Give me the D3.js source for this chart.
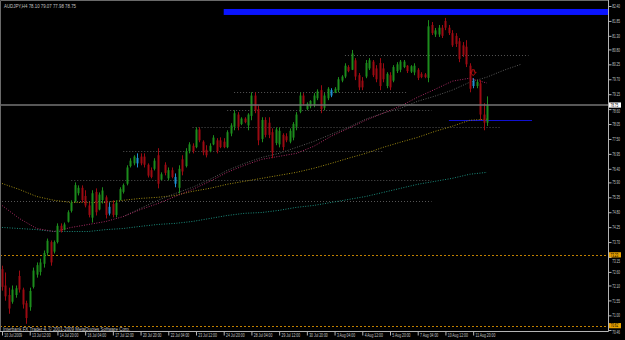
<!DOCTYPE html>
<html>
<head>
<meta charset="utf-8">
<script src="https://cdn.jsdelivr.net/npm/d3@7"></script>
<style>
  html, body { margin: 0; padding: 0; background: #000; }
  svg { display: block; }
</style>
</head>
<body>
<svg id="chart" width="625" height="340"></svg>
<script>
// --- data ---
const headerText = "AUDJPY,H4  78.10 79.07 77.98 78.75";
const footerText = "Interbank FX Trader 4, \u00a9 2001-2009 MetaQuotes Software Corp.";

const openP = [72.70,72.10,71.75,71.50,71.75,72.45,71.95,71.45,71.30,72.05,72.50,72.60,72.90,73.30,73.70,73.35,73.70,74.30,74.15,74.45,
  74.85,75.20,75.50,75.70,75.40,75.05,74.60,75.55,74.90,75.25,75.35,74.75,75.10,74.70,75.25,75.55,75.85,76.50,76.60,76.80,
  76.85,76.85,76.55,76.35,76.40,76.90,76.00,76.55,76.05,76.35,76.10,75.70,76.75,76.50,77.05,77.25,77.20,77.85,77.40,77.10,
  77.05,77.30,77.45,77.45,77.40,77.20,77.70,77.95,78.40,78.05,78.25,78.00,78.35,79.10,78.60,77.50,78.20,78.10,77.75,77.35,
  77.30,77.65,77.60,77.40,77.55,77.95,78.50,79.10,78.60,78.70,78.75,79.00,79.30,78.65,79.00,79.30,79.20,79.30,79.65,79.80,
  80.15,80.05,80.40,79.85,79.65,79.80,80.10,80.35,80.10,80.30,80.10,79.45,79.85,79.65,80.00,80.05,80.15,80.20,79.98,79.95,
  80.05,79.90,79.88,79.75,81.70,81.35,81.35,81.60,81.85,81.60,81.40,81.30,81.10,80.95,80.90,80.20,79.45,79.45,79.55,78.40,78.10];
const highP = [72.83,72.58,72.02,72.10,72.10,72.65,72.02,71.54,72.02,72.76,72.95,73.09,73.39,73.83,73.76,73.76,74.39,74.39,74.42,74.87,
  75.24,75.90,75.79,75.79,75.61,75.16,75.61,75.68,75.53,75.72,75.42,75.16,75.24,75.24,75.72,75.86,76.53,76.79,76.90,76.97,
  76.97,76.97,76.60,76.45,76.79,77.16,76.27,76.64,76.45,76.45,76.23,76.53,76.90,77.16,77.38,77.34,77.93,77.93,77.45,77.27,
  77.34,77.64,77.53,77.56,77.53,77.82,78.08,78.56,78.49,78.30,78.30,78.45,79.22,79.22,78.74,78.30,78.30,78.30,77.89,77.93,
  77.93,77.71,77.71,77.89,78.12,78.49,79.22,79.19,78.85,78.93,79.19,79.33,79.48,79.19,79.41,79.37,79.41,79.78,79.85,80.29,
  80.22,80.78,80.48,79.93,79.78,80.41,80.48,80.41,80.22,80.48,80.29,79.96,79.96,80.22,80.33,80.41,80.41,80.22,80.22,80.29,
  80.11,79.96,79.93,81.88,81.81,81.59,81.70,81.70,81.96,81.70,81.51,81.40,81.22,81.07,81.14,80.29,79.74,79.67,79.67,78.82,79.07];
const lowP = [71.91,71.54,71.06,71.43,71.65,71.84,71.25,70.69,71.17,71.99,72.39,72.47,72.76,73.20,72.83,73.28,73.65,74.05,74.13,74.42,
  74.79,75.16,75.42,75.16,74.98,74.61,74.42,74.68,74.87,75.12,74.57,74.68,74.61,74.61,75.24,75.49,75.79,76.45,76.53,76.45,
  76.53,76.45,76.08,76.05,76.34,75.68,75.97,76.16,75.97,76.05,75.72,75.49,76.16,76.45,76.97,76.97,77.16,77.38,76.90,76.82,
  77.01,77.27,76.97,77.16,77.16,77.16,77.60,77.82,77.82,78.01,78.08,77.82,78.19,78.45,77.27,77.38,77.56,77.53,76.79,77.27,
  77.19,77.08,77.38,77.34,77.45,77.82,78.45,78.74,78.56,78.63,78.67,78.93,78.45,78.56,78.93,79.04,79.19,79.22,79.59,79.74,
  79.96,80.04,79.67,79.30,79.30,79.74,80.04,79.78,79.59,79.30,79.59,79.37,79.30,79.59,79.93,79.96,80.11,79.93,79.93,79.85,
  79.67,79.74,79.74,79.59,81.33,81.26,81.26,81.22,81.51,81.33,80.89,80.89,80.33,80.52,80.15,79.22,79.37,79.37,78.19,77.82,77.98];
const closeP = [72.05,71.70,71.25,71.95,72.00,71.95,71.40,70.90,71.90,72.65,72.85,72.95,73.30,73.75,72.95,73.70,74.30,74.10,74.35,74.80,
  75.15,75.80,75.70,75.25,75.05,74.70,75.50,74.80,75.45,75.60,74.70,75.00,74.70,75.15,75.65,75.80,76.45,76.70,76.85,76.60,
  76.60,76.55,76.15,76.10,76.70,75.85,76.20,76.25,76.35,76.10,75.85,76.40,76.30,77.05,77.30,77.05,77.85,77.45,77.00,76.90,
  77.25,77.55,77.05,77.20,77.20,77.75,78.00,78.45,77.95,78.25,78.12,78.40,79.10,78.55,77.45,78.20,77.65,77.65,77.00,77.85,
  77.80,77.20,77.45,77.80,78.05,78.40,79.10,78.80,78.80,78.90,79.10,79.25,78.60,79.10,79.35,79.10,79.35,79.70,79.80,80.20,
  80.00,80.65,79.80,79.40,79.40,80.30,80.40,79.85,79.70,79.45,79.70,79.90,79.40,80.15,80.25,80.35,80.35,80.00,80.18,80.20,
  79.75,79.78,79.78,81.65,81.40,81.50,81.60,81.30,81.60,81.40,80.95,81.00,80.45,80.60,80.25,79.35,79.65,79.60,78.40,78.10,78.75];
const cyanBars = [31, 39, 50, 95, 136];

// moving averages, sampled every 5 bars
const maIdx = d3.range(0, 141, 5);
const maPink = [75.05,74.57,74.20,74.09,74.24,74.35,74.46,74.64,74.90,75.12,75.38,75.64,75.94,76.27,76.53,76.75,76.86,76.97,77.23,77.60,
  77.89,78.19,78.45,78.71,79.04,79.33,79.63,79.74,79.56];
const maYellow = [75.86,75.64,75.38,75.24,75.16,75.16,75.16,75.24,75.31,75.35,75.42,75.57,75.68,75.83,75.94,76.05,76.16,76.27,76.42,76.60,
  76.79,76.97,77.19,77.38,77.56,77.78,77.97,78.19,78.23];
const maTeal = [74.24,74.20,74.16,74.09,74.09,74.09,74.16,74.20,74.28,74.35,74.39,74.46,74.57,74.68,74.76,74.79,74.87,74.98,75.05,75.16,
  75.27,75.38,75.53,75.68,75.83,75.94,76.05,76.20,76.27];
const grayIdx = d3.range(35, 151, 5);
const maGray = [74.64,74.94,75.24,75.49,75.72,76.01,76.34,76.60,76.82,76.97,77.19,77.41,77.67,77.93,78.23,78.45,78.63,78.89,79.08,79.30,
  79.59,79.78,80.04,80.26];

// horizontal dotted levels: price, first bar, last bar
const levelPrice = [80.59, 79.22, 78.56, 77.93, 77.05, 75.97, 75.20];
const levelFrom  = [99, 67, 65, 55, 35, 20, 0];
const levelTo    = [152, 117, 124, 144, 110, 124, 124];

const orangeLevels = [73.23, 70.62];
const lastPrice = 78.75;
const blueBox = {from: 64, top: 82.29, bottom: 82.07};
const blueLine = {price: 78.19, from: 129, to: 153};
const arrowAt = {bar: 136, price: 79.93};

const priceTicks = [82.40,81.85,81.30,80.80,80.25,79.70,79.15,78.60,78.05,77.50,76.95,76.40,75.90,75.35,74.80,74.25,73.70,73.15,
  72.60,72.10,71.55,71.00,70.46];
const timeIdx = d3.range(0, 137, 8);
const timeLabels = ["10 Jul 2009","13 Jul 12:00","14 Jul 20:00","16 Jul 04:00","17 Jul 12:00","20 Jul 20:00","22 Jul 04:00",
  "23 Jul 12:00","24 Jul 20:00","28 Jul 04:00","29 Jul 12:00","30 Jul 20:00","3 Aug 04:00","4 Aug 12:00","5 Aug 20:00",
  "7 Aug 04:00","10 Aug 12:00","11 Aug 20:00"];

// --- drawing ---
const font = "'Liberation Sans', Arial, sans-serif";
const plotR = 608, plotB = 331;
const svg = d3.select("#chart");

const x = d3.scaleLinear().domain([0, 140]).range([2, 487]);
const y = d3.scaleLinear().domain([70.46, 82.40]).range([330, 6]);

svg.append("rect").attr("width", 625).attr("height", 340).attr("fill", "#000");
svg.append("defs").append("clipPath").attr("id", "plot")
  .append("rect").attr("x", 1).attr("y", 1).attr("width", plotR - 1).attr("height", plotB - 1);
const plot = svg.append("g").attr("clip-path", "url(#plot)");

// blue rectangle object
plot.append("rect")
  .attr("x", x(blueBox.from)).attr("y", y(blueBox.top))
  .attr("width", plotR - x(blueBox.from)).attr("height", y(blueBox.bottom) - y(blueBox.top))
  .attr("fill", "#0a14ff");

// dotted levels
plot.selectAll(".lvl").data(levelPrice).join("line").attr("class", "lvl")
  .attr("x1", (d, i) => x(levelFrom[i])).attr("x2", (d, i) => x(levelTo[i]))
  .attr("y1", d => Math.round(y(d)) + 0.5).attr("y2", d => Math.round(y(d)) + 0.5)
  .attr("stroke", "#555").attr("stroke-dasharray", "1,2");

plot.selectAll(".org").data(orangeLevels).join("line").attr("class", "org")
  .attr("x1", 0).attr("x2", plotR)
  .attr("y1", d => Math.round(y(d)) + 0.5).attr("y2", d => Math.round(y(d)) + 0.5)
  .attr("stroke", "#c08000").attr("stroke-dasharray", "2,2");

plot.append("line")
  .attr("x1", x(blueLine.from)).attr("x2", x(blueLine.to))
  .attr("y1", Math.round(y(blueLine.price)) + 0.5).attr("y2", Math.round(y(blueLine.price)) + 0.5)
  .attr("stroke", "#1010d0");

// moving averages
const line = d3.line().x(d => x(d[0])).y(d => y(d[1]));
const mas = [
  [d3.zip(maIdx, maTeal), "#1b8c7c"],
  [d3.zip(maIdx, maYellow), "#a08c12"],
  [d3.zip(grayIdx, maGray), "#5a5a5a"],
  [d3.zip(maIdx, maPink), "#a82a62"]
];
plot.selectAll(".ma").data(mas).join("path").attr("class", "ma")
  .attr("d", d => line(d[0])).attr("fill", "none")
  .attr("stroke", d => d[1]).attr("stroke-width", 1).attr("stroke-dasharray", "1,1.5");

// candles
const bars = openP.map((o, i) => ({i, o, h: highP[i], l: lowP[i], c: closeP[i]}));
const colour = d => cyanBars.includes(d.i) ? "#1e8fd0" : (d.c >= d.o ? "#1c8c1c" : "#9c0a12");
plot.selectAll(".wick").data(bars).join("rect").attr("class", "wick")
  .attr("x", d => Math.round(x(d.i))).attr("width", 1)
  .attr("y", d => y(d.h)).attr("height", d => y(d.l) - y(d.h))
  .attr("fill", colour);
plot.selectAll(".body").data(bars).join("rect").attr("class", "body")
  .attr("x", d => Math.round(x(d.i)) - 0.5).attr("width", 2)
  .attr("y", d => y(Math.max(d.o, d.c)))
  .attr("height", d => Math.max(1, Math.abs(y(d.o) - y(d.c))))
  .attr("fill", colour);

// current price line
plot.append("line").attr("x1", 0).attr("x2", plotR)
  .attr("y1", y(lastPrice)).attr("y2", y(lastPrice))
  .attr("stroke", "#747474").attr("stroke-width", 1.6);

// arrow mark
plot.append("path")
  .attr("transform", `translate(${x(arrowAt.bar)},${y(arrowAt.price)})`)
  .attr("d", "M-1.2,-3.2H1.2V-0.8H3L0,2.6L-3,-0.8H-1.2Z")
  .attr("fill", "none").attr("stroke", "#c81010").attr("stroke-width", 0.9);

// texts inside the plot
svg.append("text").attr("x", 4).attr("y", 8).text(headerText)
  .attr("font-family", font).attr("font-size", 6).attr("fill", "#c0c0c0")
  .attr("textLength", 72).attr("lengthAdjust", "spacingAndGlyphs");
svg.append("text").attr("x", 3).attr("y", 330.5).text(footerText)
  .attr("font-family", font).attr("font-size", 5.5).attr("fill", "#c0c0c0")
  .attr("textLength", 127).attr("lengthAdjust", "spacingAndGlyphs");

// frame
svg.append("path").attr("d", `M0.5,${plotB + 0.5}V0.5H${plotR + 0.5}`).attr("fill", "none").attr("stroke", "#6a6a6a");
svg.append("path").attr("d", `M0,${plotB + 0.5}H${plotR + 0.5}V0`).attr("fill", "none").attr("stroke", "#b4b4b4");

// price boxes on the axis (MT4 draws them over the scale)
const boxPrices = [lastPrice, orangeLevels[0], orangeLevels[1]];
const boxFill = ["#ffffff", "#e8a000", "#e8a000"];

// price axis; a label that would sit under a box is pushed clear of it
const ya = svg.append("g").attr("transform", `translate(${plotR + 0.5},0)`)
  .call(d3.axisRight(y).tickValues(priceTicks).tickFormat(d3.format(".2f")).tickSize(3).tickPadding(3));
ya.select(".domain").remove();
ya.selectAll(".tick line").attr("stroke", "#b4b4b4");
ya.selectAll(".tick text").attr("fill", "#c8c8c8").attr("font-family", font).attr("font-size", 5)
  .attr("transform", "scale(0.62,1)")
  .attr("y", d => {
    const near = boxPrices.map(b => y(d) - y(b)).filter(v => Math.abs(v) < 6.2);
    if (!near.length) return 0;
    const v = near[0];
    return (v >= 0 ? 6.2 : -6.2) - v;
  });

// time axis
const xa = svg.append("g").attr("transform", `translate(0,${plotB + 0.5})`)
  .call(d3.axisBottom(x).tickValues(timeIdx).tickFormat((d, i) => timeLabels[i]).tickSize(4).tickPadding(1));
xa.select(".domain").remove();
xa.selectAll(".tick line").attr("stroke", "#b4b4b4");
xa.selectAll(".tick text").attr("fill", "#c8c8c8").attr("font-family", font).attr("font-size", 5.5)
  .attr("text-anchor", "start").attr("x", 3).attr("y", 2).attr("transform", "scale(0.62,1)");

const bx = svg.selectAll(".pbox").data(boxPrices).join("g").attr("class", "pbox")
  .attr("transform", d => `translate(${plotR + 1},${y(d)})`);
bx.append("rect").attr("x", 0).attr("y", -2.6).attr("width", 12).attr("height", 5.2).attr("fill", (d, i) => boxFill[i]);
bx.append("text").attr("x", 2.5).attr("y", 0).attr("dy", "0.35em").text(d => d.toFixed(2))
  .attr("font-family", font).attr("font-size", 5).attr("fill", "#000")
  .attr("transform", "scale(0.62,1)");
</script>
</body>
</html>
